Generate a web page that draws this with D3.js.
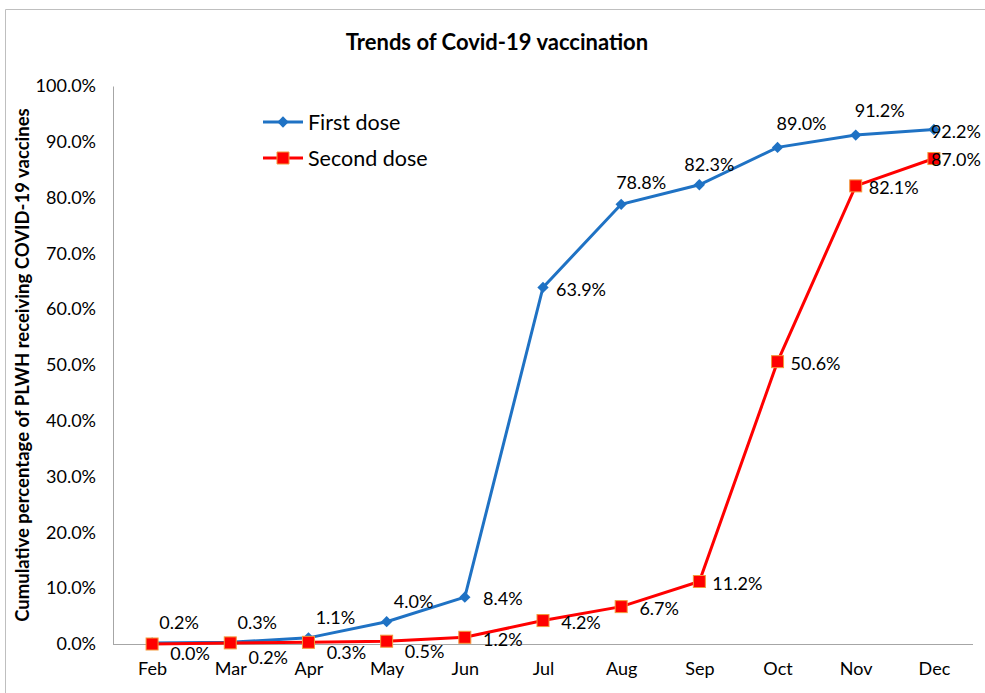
<!DOCTYPE html>
<html>
<head>
<meta charset="utf-8">
<script src="https://cdn.jsdelivr.net/npm/d3@7"></script>
<style>
  html, body { margin: 0; padding: 0; background: #fff; }
  svg { display: block; font-family: Lato, "Open Sans", sans-serif; }
</style>
</head>
<body>
<div id="chart"></div>
<script>
// chart values
var months = ["Feb", "Mar", "Apr", "May", "Jun", "Jul", "Aug", "Sep", "Oct", "Nov", "Dec"];
var firstDose = [0.2, 0.3, 1.1, 4.0, 8.4, 63.9, 78.8, 82.3, 89.0, 91.2, 92.2];
var secondDose = [0.0, 0.2, 0.3, 0.5, 1.2, 4.2, 6.7, 11.2, 50.6, 82.1, 87.0];
var yTicks = [0, 10, 20, 30, 40, 50, 60, 70, 80, 90, 100];

var iWidth = 985, iHeight = 693;
var oPlot = { left: 113, right: 973, top: 86, bottom: 644 };

var dSVG = d3.select("#chart").append("svg")
    .attr("width", iWidth)
    .attr("height", iHeight);

// outer chart frame (only top and left edges show in the cropped original)
dSVG.append("path")
    .attr("d", "M5.5,693V9.5H985")
    .style("fill", "none")
    .style("stroke", "#bfbfbf")
    .style("stroke-width", 1);

var x = d3.scalePoint().domain(months).range([oPlot.left, oPlot.right]).padding(0.5);
var y = d3.scaleLinear().domain([0, 100]).range([oPlot.bottom, oPlot.top]);

// title
dSVG.append("text")
    .attr("x", 497).attr("y", 50)
    .attr("text-anchor", "middle")
    .style("font-size", "22px").style("font-weight", "bold")
    .text("Trends of Covid-19 vaccination");

// y axis title
dSVG.append("text")
    .attr("transform", "translate(29," + ((oPlot.top + oPlot.bottom) / 2) + ") rotate(-90)")
    .attr("text-anchor", "middle")
    .style("font-size", "18.5px").style("font-weight", "bold")
    .text("Cumulative percentage of PLWH receiving COVID-19 vaccines");

// y axis
var gY = dSVG.append("g")
    .attr("transform", "translate(" + oPlot.left + ",0)")
    .call(d3.axisLeft(y).tickValues(yTicks).tickSize(0).tickPadding(17)
        .tickFormat(function(d) { return d.toFixed(1) + "%"; }));
gY.select(".domain").style("stroke", "#a6a6a6").style("stroke-width", 1);
gY.selectAll("text").style("font-size", "18px").style("font-family", "Lato, sans-serif").style("fill", "#000");

// x axis
var gX = dSVG.append("g")
    .attr("transform", "translate(0," + oPlot.bottom + ")")
    .call(d3.axisBottom(x).tickSize(0).tickPadding(18));
gX.select(".domain").attr("d", "M" + oPlot.left + ",0.5H" + oPlot.right).style("stroke", "#a6a6a6");
gX.selectAll("text").style("font-size", "18px").style("font-family", "Lato, sans-serif").style("fill", "#000");

var line = d3.line()
    .x(function(d, i) { return x(months[i]); })
    .y(function(d) { return y(d); });

var sBlue = "#1f72c4", sRed = "#ff0000";

// first dose
dSVG.append("path").datum(firstDose)
    .attr("d", line)
    .style("fill", "none").style("stroke", sBlue).style("stroke-width", 3);

dSVG.selectAll(".m1").data(firstDose).enter().append("path")
    .attr("class", "m1")
    .attr("transform", function(d, i) { return "translate(" + x(months[i]) + "," + y(d) + ") rotate(45)"; })
    .attr("d", "M-4,-4H4V4H-4Z")
    .style("fill", sBlue);

// second dose
dSVG.append("path").datum(secondDose)
    .attr("d", line)
    .style("fill", "none").style("stroke", sRed).style("stroke-width", 3);

dSVG.selectAll(".m2").data(secondDose).enter().append("rect")
    .attr("class", "m2")
    .attr("x", function(d, i) { return x(months[i]) - 6; })
    .attr("y", function(d) { return y(d) - 6; })
    .attr("width", 12).attr("height", 12)
    .style("fill", sRed).style("stroke", "#f39a3c").style("stroke-width", 1);

// data labels: label offsets (dx, dy from the marker) mimic the hand-placed Excel labels
function firstOffset(i) {
    if (i <= 3) return [27, -20];
    if (i === 4 || i === 5) return [38, 2];
    if (i === 10) return [22, 2];
    if (i === 6) return [20, -22];
    if (i === 7) return [10, -20];
    return [24, -24];
}
function secondOffset(i) {
    if (i <= 3) return [38, 10 + (i === 1 ? 5 : 0)];
    if (i === 10) return [22, 1];
    return [38, 2];
}

function fmt(d) { return d.toFixed(1) + "%"; }

dSVG.selectAll(".l1").data(firstDose).enter().append("text")
    .attr("class", "l1")
    .attr("x", function(d, i) { return x(months[i]) + firstOffset(i)[0]; })
    .attr("y", function(d, i) { return y(d) + firstOffset(i)[1]; })
    .attr("dy", "0.35em")
    .attr("text-anchor", "middle")
    .style("font-size", "18px")
    .text(fmt);

dSVG.selectAll(".l2").data(secondDose).enter().append("text")
    .attr("class", "l2")
    .attr("x", function(d, i) { return x(months[i]) + secondOffset(i)[0]; })
    .attr("y", function(d, i) { return y(d) + secondOffset(i)[1]; })
    .attr("dy", "0.35em")
    .attr("text-anchor", "middle")
    .style("font-size", "18px")
    .text(fmt);

// legend
var aLegend = [
    { name: "First dose", color: sBlue, marker: "diamond", y: 122 },
    { name: "Second dose", color: sRed, marker: "square", y: 158 }
];
var gL = dSVG.selectAll(".leg").data(aLegend).enter().append("g")
    .attr("class", "leg")
    .attr("transform", function(d) { return "translate(263," + d.y + ")"; });
gL.append("line").attr("x1", 0).attr("x2", 40).attr("y1", 0).attr("y2", 0)
    .style("stroke", function(d) { return d.color; }).style("stroke-width", 3);
gL.append("path")
    .attr("transform", function(d) { return d.marker === "diamond" ? "translate(20,0) rotate(45)" : "translate(20,0)"; })
    .attr("d", function(d) { return d.marker === "diamond" ? "M-4,-4H4V4H-4Z" : "M-6,-6H6V6H-6Z"; })
    .style("fill", function(d) { return d.color; })
    .style("stroke", function(d) { return d.marker === "square" ? "#f39a3c" : "none"; });
gL.append("text").attr("x", 45).attr("dy", "0.35em")
    .style("font-size", "21.5px")
    .text(function(d) { return d.name; });
</script>
</body>
</html>
